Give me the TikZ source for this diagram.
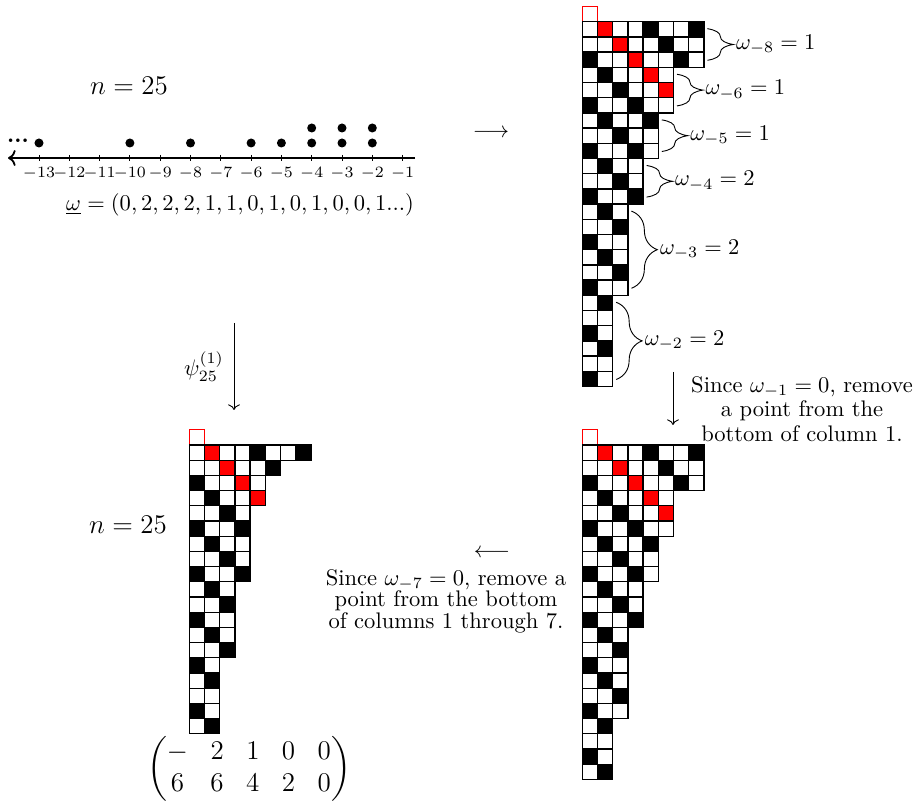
\documentclass[tikz,border=0pt]{standalone}
\usepackage{amsmath, amssymb}
\usepackage{tikz}
\usetikzlibrary{arrows.meta, decorations.pathreplacing}

\def\cellsz{15.2}
\tikzset{tabcell/.style={draw=black, line width=0.6pt}}

% #1 origin (top left of row 1), #2 number of red cells, #3 row lengths
\newcommand{\drawtab}[3]{%
  \begin{scope}[shift={#1}]
    \draw[red, line width=0.5pt] (0,0) rectangle (\cellsz,\cellsz);
    \foreach \len [count=\i] in {#3} {
      \foreach \j in {1,...,\len} {
        \pgfmathtruncatemacro{\rmod}{mod(\i-\j+30,3)}
        \def\cellcol{white}
        \ifnum\rmod=2 \def\cellcol{black}\fi
        \ifnum\numexpr\j-\i\relax=1 \ifnum\i<\numexpr#2+1\relax \def\cellcol{red}\fi\fi
        \filldraw[tabcell, fill=\cellcol] ({(\j-1)*\cellsz},{-(\i-1)*\cellsz}) rectangle ({\j*\cellsz},{-\i*\cellsz});
      }
    }
  \end{scope}}

\begin{document}
\begin{tikzpicture}[>=To, x=0.444pt, y=0.444pt]
\useasboundingbox (0,0) rectangle (919,-805);

% number line
\node (ntop) at (129,-86) {\large $n=25$};
\draw[->, thick] (415,-158) -- (8,-158);
\foreach \k [count=\t from 0] in {13,12,...,1} {
  \draw ({39+30.3*\t},-155) -- ({39+30.3*\t},-161);
  \node[font=\scriptsize] (t\k) at ({39+30.3*\t},-173) {$-\k$};
}
\foreach \k/\m in {13/1, 10/1, 8/1, 6/1, 5/1, 4/2, 3/2, 2/2}
  \foreach \r in {1,...,\m}
    \fill ({39+30.3*(13-\k)},{-143+15*(\r-1)}) circle (2pt);
\node (dots) at (18,-141) {\textbf{...}};
\node (omega) at (240,-205) {$\underline{\omega} = (0, 2, 2, 2, 1, 1, 0, 1, 0, 1, 0, 0, 1...)$};

\node (toarr) at (491,-133) {$\longrightarrow$};
\node (backarr) at (492,-553) {$\longleftarrow$};

% tableaux
\drawtab{(582.3,-21.7)}{5}{8,8,8,6,6,6,5,5,5,4,4,4,3,3,3,3,3,3,2,2,2,2,2,2}
\drawtab{(582.3,-445)}{5}{8,8,8,6,6,6,5,5,5,4,4,4,3,3,3,3,3,3,2,2,2,2}
\drawtab{(189.3,-445)}{4}{8,6,5,5,4,4,4,4,4,3,3,3,3,3,2,2,2,2,2}

\begin{scope}[shift={(582.3,-21.7)}]
\foreach \len/\ra/\rb/\v in {8/1/3/1, 6/4/6/1, 5/7/9/1, 4/10/12/2, 3/13/18/2, 2/19/24/2}
  \draw[decorate, decoration={brace, amplitude=11.5pt}]
    ({\len*\cellsz+3.5},{-(\ra-1)*\cellsz-7}) -- ({\len*\cellsz+3.5},{-\rb*\cellsz+7})
    node[midway, right=11.5pt, inner sep=1pt] (w\len) {$\omega_{-\len}=\v$};
\end{scope}

% arrows and captions
\coordinate (psitop) at (234,-323);
\coordinate (psibot) at (234,-410);
\draw[->] (psitop) -- (psibot) node[midway, left=1pt] (psi) {$\psi^{(1)}_{25}$};

\coordinate (rtop) at (673,-372);
\coordinate (rbot) at (673,-425);
\draw[->] (rtop) -- (rbot);

\node[align=center, font=\fontsize{10}{11}\selectfont] (capA) at (802,-409)
  {Since $\omega_{-1}=0$, remove\\ a point from the\\ bottom of column 1.};
\node[align=center, font=\fontsize{10}{9.5}\selectfont] (capB) at (446,-601)
  {Since $\omega_{-7}=0$, remove a\\ point from the bottom\\ of columns 1 through 7.};

\node (nbot) at (128,-525) {\large $n=25$};
\node[font=\large] (mat) at (249,-769) {$\begin{pmatrix} - & 2 & 1 & 0 & 0\\ 6 & 6 & 4 & 2 & 0 \end{pmatrix}$};
\end{tikzpicture}
\end{document}
